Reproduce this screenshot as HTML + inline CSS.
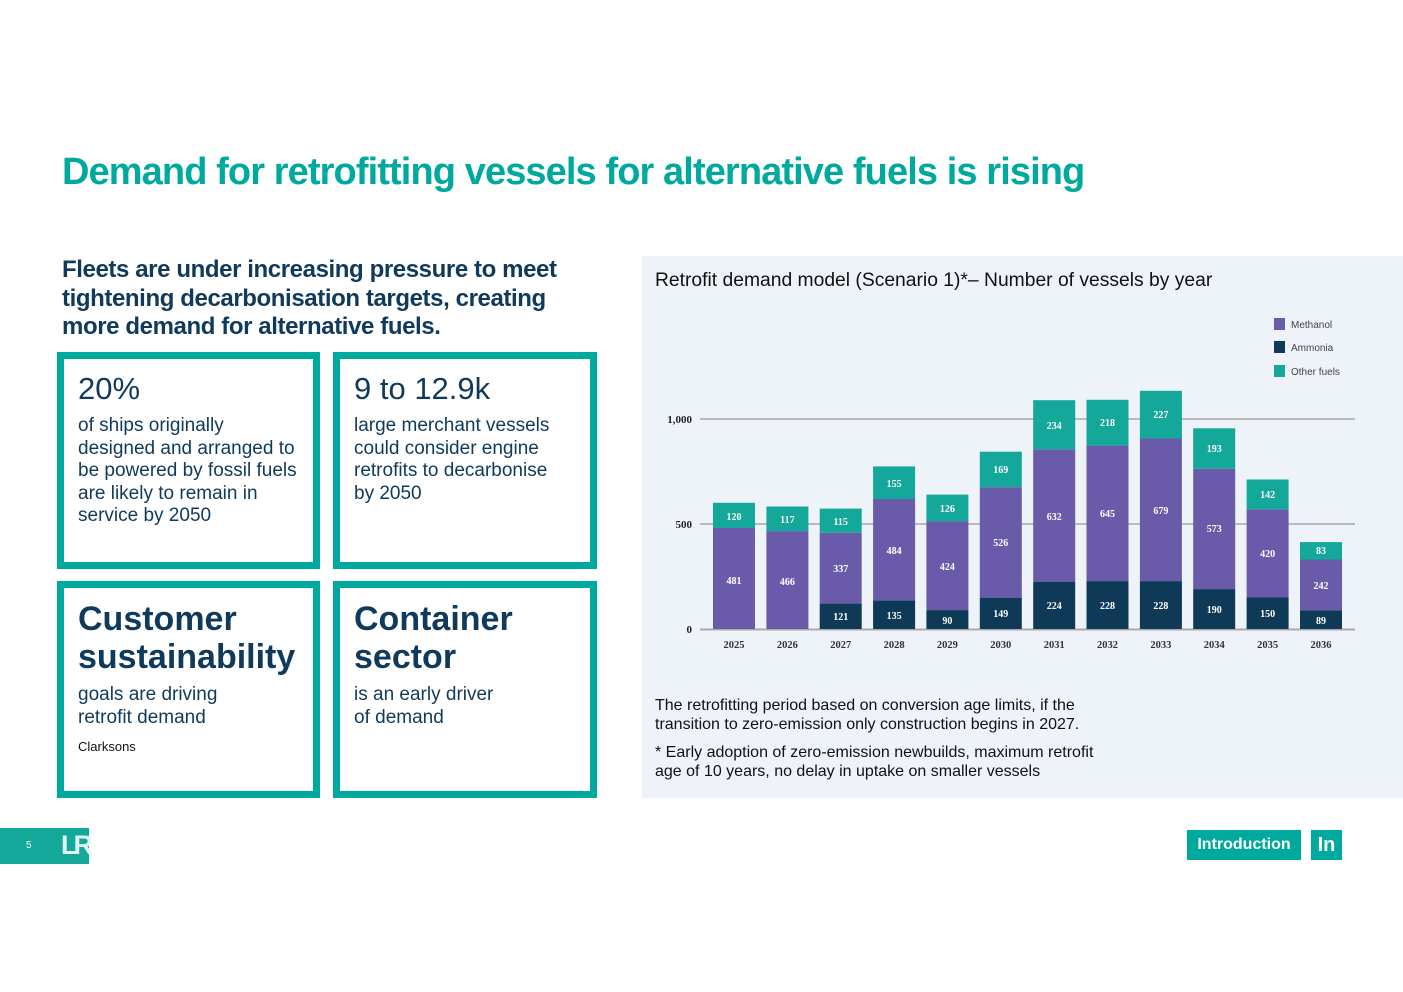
<!DOCTYPE html>
<html><head><meta charset="utf-8"><style>
body{margin:0;width:1403px;height:992px;background:#fff;position:relative;overflow:hidden;font-family:"Liberation Sans",sans-serif;color:#0f3a5c}
.a{position:absolute}
h1{position:absolute;left:62px;top:151px;margin:0;font-size:38px;font-weight:bold;color:#00a99d;letter-spacing:-0.9px;white-space:nowrap}
.sub{left:62px;top:256px;font-size:24px;font-weight:bold;line-height:28.5px;letter-spacing:-0.4px}
.box{position:absolute;border:7px solid #00a99d;box-sizing:border-box;width:263px;height:217px;padding:12px 0 0 14px}
.big{font-size:31px;line-height:36px;margin-bottom:8px}
.big2{font-size:34px;font-weight:bold;line-height:38px;margin-bottom:8px}
.t{font-size:19px;line-height:22.5px}
.panel{left:642px;top:256px;width:761px;height:542px;background:#eef2f9}
</style></head><body>
<h1>Demand for retrofitting vessels for alternative fuels is rising</h1>
<div class="a sub">Fleets are under increasing pressure to meet<br>tightening decarbonisation targets, creating<br>more demand for alternative fuels.</div>
<div class="box" style="left:57px;top:352px"><div class="big">20%</div><div class="t">of ships originally<br>designed and arranged to<br>be powered by fossil fuels<br>are likely to remain in<br>service by 2050</div></div>
<div class="box" style="left:333px;top:352px;width:264px"><div class="big">9 to 12.9k</div><div class="t">large merchant vessels<br>could consider engine<br>retrofits to decarbonise<br>by 2050</div></div>
<div class="box" style="left:57px;top:581px"><div class="big2">Customer<br>sustainability</div><div class="t">goals are driving<br>retrofit demand</div><div style="font-size:13px;color:#111;margin-top:10px">Clarksons</div></div>
<div class="box" style="left:333px;top:581px;width:264px"><div class="big2">Container<br>sector</div><div class="t">is an early driver<br>of demand</div></div>
<div class="a panel"></div>
<div class="a" style="left:655px;top:270px;font-size:19.3px;color:#111">Retrofit demand model (Scenario 1)*– Number of vessels by year</div>
<svg class="a" style="left:0;top:0" width="1403" height="992">
<g stroke="#999" stroke-width="1.2"><line x1="700" y1="419" x2="1355" y2="419"/><line x1="700" y1="524" x2="1355" y2="524"/><line x1="700" y1="629.5" x2="1355" y2="629.5" stroke="#aaa" stroke-width="2"/></g>
<g font-size="11" font-weight="bold" fill="#222" text-anchor="end" font-family="Liberation Serif"><text x="692" y="423">1,000</text><text x="692" y="528">500</text><text x="692" y="633">0</text></g>
<g fill="#6a5aaa">
<rect x="713" y="528" width="42" height="101"/><rect x="766.4" y="531.1" width="42" height="97.9"/><rect x="819.7" y="532.8" width="42" height="70.8"/><rect x="873.1" y="499" width="42" height="101.6"/><rect x="926.4" y="521.1" width="42" height="89"/><rect x="979.8" y="487.2" width="42" height="110.5"/><rect x="1033.2" y="449.3" width="42" height="132.7"/><rect x="1086.5" y="445.6" width="42" height="135.5"/><rect x="1139.9" y="438.5" width="42" height="142.6"/><rect x="1193.2" y="468.8" width="42" height="120.3"/><rect x="1246.6" y="509.3" width="42" height="88.2"/><rect x="1300" y="559.5" width="42" height="50.8"/></g>
<g fill="#0e3a58">
<rect x="819.7" y="603.6" width="42" height="25.4"/><rect x="873.1" y="600.6" width="42" height="28.4"/><rect x="926.4" y="610.1" width="42" height="18.9"/><rect x="979.8" y="597.7" width="42" height="31.3"/><rect x="1033.2" y="582" width="42" height="47"/><rect x="1086.5" y="581.1" width="42" height="47.9"/><rect x="1139.9" y="581.1" width="42" height="47.9"/><rect x="1193.2" y="589.1" width="42" height="39.9"/><rect x="1246.6" y="597.5" width="42" height="31.5"/><rect x="1300" y="610.3" width="42" height="18.7"/></g>
<g fill="#13a89a">
<rect x="713" y="502.8" width="42" height="25.2"/><rect x="766.4" y="506.5" width="42" height="24.6"/><rect x="819.7" y="508.6" width="42" height="24.2"/><rect x="873.1" y="466.4" width="42" height="32.6"/><rect x="926.4" y="494.6" width="42" height="26.5"/><rect x="979.8" y="451.7" width="42" height="35.5"/><rect x="1033.2" y="400.2" width="42" height="49.1"/><rect x="1086.5" y="399.8" width="42" height="45.8"/><rect x="1139.9" y="390.8" width="42" height="47.7"/><rect x="1193.2" y="428.3" width="42" height="40.5"/><rect x="1246.6" y="479.5" width="42" height="29.8"/><rect x="1300" y="542.1" width="42" height="17.4"/></g>
<g font-size="10" font-weight="bold" fill="#fff" text-anchor="middle" font-family="Liberation Serif">
<text x="734" y="520">120</text><text x="734" y="584">481</text>
<text x="787.4" y="523">117</text><text x="787.4" y="585">466</text>
<text x="840.7" y="525">115</text><text x="840.7" y="572">337</text><text x="840.7" y="620">121</text>
<text x="894.1" y="487">155</text><text x="894.1" y="554">484</text><text x="894.1" y="619">135</text>
<text x="947.4" y="512">126</text><text x="947.4" y="570">424</text><text x="947.4" y="624">90</text>
<text x="1000.8" y="473">169</text><text x="1000.8" y="546">526</text><text x="1000.8" y="617">149</text>
<text x="1054.2" y="429">234</text><text x="1054.2" y="520">632</text><text x="1054.2" y="609">224</text>
<text x="1107.5" y="426">218</text><text x="1107.5" y="517">645</text><text x="1107.5" y="609">228</text>
<text x="1160.9" y="418">227</text><text x="1160.9" y="514">679</text><text x="1160.9" y="609">228</text>
<text x="1214.2" y="452">193</text><text x="1214.2" y="532">573</text><text x="1214.2" y="613">190</text>
<text x="1267.6" y="498">142</text><text x="1267.6" y="557">420</text><text x="1267.6" y="617">150</text>
<text x="1321" y="554">83</text><text x="1321" y="589">242</text><text x="1321" y="624">89</text></g>
<g font-size="10.5" font-weight="bold" fill="#333" text-anchor="middle" font-family="Liberation Serif">
<text x="734" y="648">2025</text><text x="787.4" y="648">2026</text><text x="840.7" y="648">2027</text><text x="894.1" y="648">2028</text><text x="947.4" y="648">2029</text><text x="1000.8" y="648">2030</text><text x="1054.2" y="648">2031</text><text x="1107.5" y="648">2032</text><text x="1160.9" y="648">2033</text><text x="1214.2" y="648">2034</text><text x="1267.6" y="648">2035</text><text x="1321" y="648">2036</text></g>
<rect x="1274" y="318" width="11" height="12" fill="#6a5aaa"/><rect x="1274" y="341" width="11" height="12" fill="#0e3a58"/><rect x="1274" y="365" width="11" height="12" fill="#13a89a"/>
<g font-size="10" fill="#444"><text x="1291" y="328">Methanol</text><text x="1291" y="351">Ammonia</text><text x="1291" y="375">Other fuels</text></g>
</svg>
<div class="a" style="left:655px;top:696px;font-size:16px;line-height:19px;color:#111">The retrofitting period based on conversion age limits, if the<br>transition to zero-emission only construction begins in 2027.</div>
<div class="a" style="left:655px;top:743px;font-size:16px;line-height:19px;color:#111">* Early adoption of zero-emission newbuilds, maximum retrofit<br>age of 10 years, no delay in uptake on smaller vessels</div>
<div class="a" style="left:0;top:828px;width:89px;height:36px;background:#13a89a"></div>
<div class="a" style="left:26px;top:840px;font-size:10px;color:#fff">5</div>
<div class="a" style="left:61px;top:830px;font-size:27px;color:#dff5f2;font-weight:bold;letter-spacing:-4px">LR</div>
<div class="a" style="left:1187px;top:830px;width:114px;height:30px;background:#00a99d;color:#fff;font-size:16px;font-weight:bold;text-align:center;line-height:30px">Introduction</div>
<div class="a" style="left:1311px;top:830px;width:31px;height:30px;background:#00a99d;color:#fff;font-size:20px;font-weight:bold;text-align:center;line-height:30px">In</div>
</body></html>
